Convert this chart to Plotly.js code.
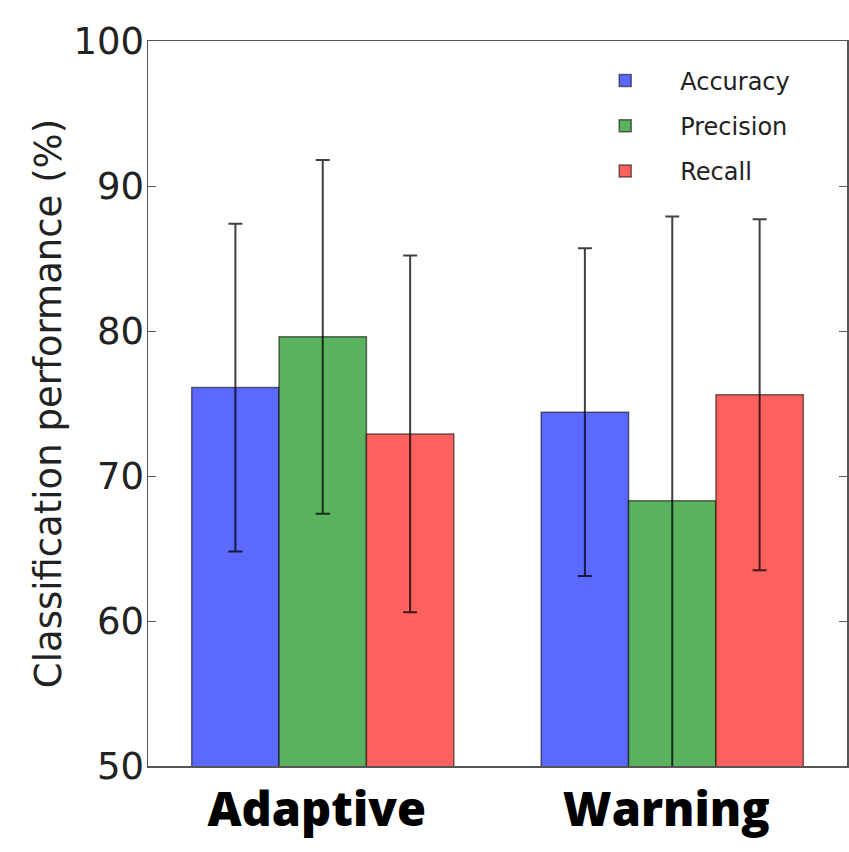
<!DOCTYPE html>
<html>
<head>
<meta charset="utf-8">
<script src="https://cdn.plot.ly/plotly-3.0.1.min.js"></script>
<style>html,body{margin:0;padding:0;background:#fff;}#chart{width:849px;height:852px;}</style>
</head>
<body>
<div id="chart"></div>
<script>
// Data
const categories = ["Adaptive", "Warning"];
const seriesNames = ["Accuracy", "Precision", "Recall"];
const accuracy = [76.1, 74.4];
const accuracyErr = [11.3, 11.3];
const precision = [79.6, 68.3];
const precisionErr = [12.2, 19.6];
const recall = [72.9, 75.6];
const recallErr = [12.3, 12.1];
const yTicks = [50, 60, 70, 80, 90, 100];

const colors = ["#5c69ff", "#5ab25e", "#ff625e"];
const values = [accuracy, precision, recall];
const errors = [accuracyErr, precisionErr, recallErr];

const traces = seriesNames.map((name, i) => ({
  type: "bar",
  name: name,
  x: categories,
  y: values[i],
  legendgroup: name,
  marker: { color: colors[i], line: { color: "rgba(0,0,0,0.55)", width: 1.5 } },
  error_y: { type: "data", array: errors[i], visible: true, color: "rgba(0,0,0,0.75)", thickness: 2, width: 7 }
}));

const layout = {
  width: 849,
  height: 852,
  margin: { l: 148, r: 2, t: 41, b: 86 },
  paper_bgcolor: "#fff",
  plot_bgcolor: "#fff",
  barmode: "group",
  bargap: 0.25,
  bargroupgap: 0,
  showlegend: true,
  legend: {
    x: 0.604, xanchor: "left", y: 0.976, yanchor: "top",
    bgcolor: "rgba(255,255,255,0)",
    borderwidth: 0,
    itemwidth: 100,
    traceorder: "grouped",
    tracegroupgap: 11,
    font: { family: "DejaVu Sans", size: 24, color: "#222" }
  },
  xaxis: {
    type: "category",
    range: [-0.5, 1.5],
    showline: true, linecolor: "#555", linewidth: 1.5, mirror: true,
    ticks: "", showgrid: false, zeroline: false,
    ticklabelshift: -6,
    ticklabelstandoff: 2,
    tickfont: { family: "Open Sans", size: 47, color: "#000", weight: 800 }
  },
  yaxis: {
    range: [50, 100],
    tickvals: yTicks,
    ticktext: yTicks.map(String),
    showline: true, linecolor: "#555", linewidth: 1.5, mirror: "ticks",
    ticks: "inside", ticklen: 8, tickwidth: 1, tickcolor: "#555",
    showgrid: false, zeroline: false,
    ticklabelstandoff: -5,
    tickfont: { family: "DejaVu Sans", size: 37, color: "#222" },
    title: { text: "Classification performance (%)", standoff: 0, font: { family: "DejaVu Sans", size: 37, color: "#222" } }
  }
};

Plotly.newPlot("chart", traces, layout, { displayModeBar: false, staticPlot: true });
</script>
</body>
</html>
